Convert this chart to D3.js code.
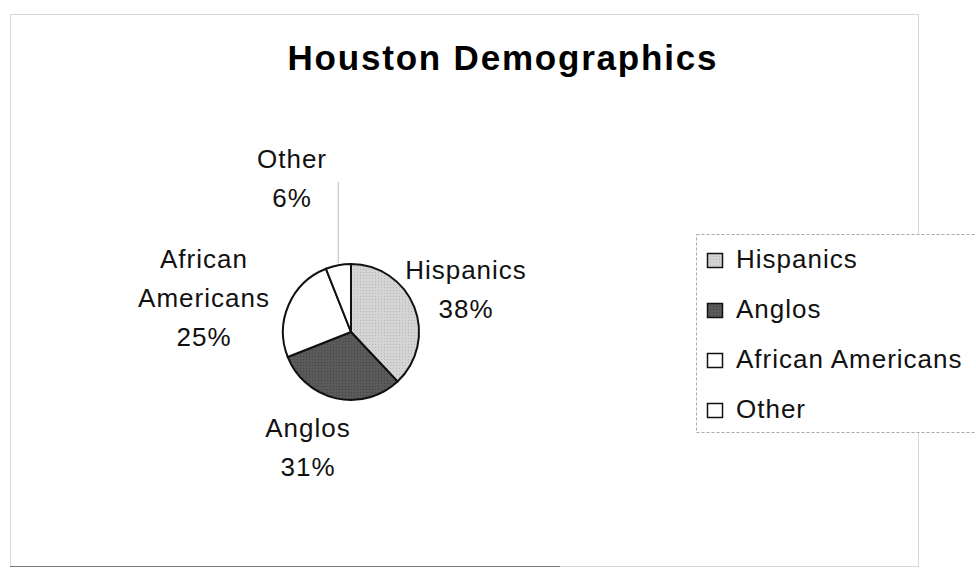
<!DOCTYPE html>
<head>
    <meta charset="utf-8">
    <title>Houston Demographics</title>
    <style>
        body { margin: 0; background: #fff; }
        svg { font-family: "Liberation Sans", Arial, sans-serif; }
    </style>
</head>
<body>
<svg width="976" height="576"></svg>

<script src="https://d3js.org/d3.v7.min.js"></script>
<script>
    const groups = ["Hispanics", "Anglos", "African Americans", "Other"];
    const shares = [38, 31, 25, 6];
    const fills = ["#cdcdcd", "#575757", "#ffffff", "#ffffff"];

    const svg = d3.select("svg");

    // chart frame
    svg.append("rect")
        .attr("x", 10.5).attr("y", 14.5)
        .attr("width", 908).attr("height", 552)
        .attr("fill", "none")
        .attr("stroke", "#d8d8d8");
    svg.append("line")
        .attr("x1", 10).attr("x2", 560).attr("y1", 566.5).attr("y2", 566.5)
        .attr("stroke", "#777");

    svg.append("text")
        .attr("x", 502).attr("y", 70)
        .attr("text-anchor", "middle")
        .attr("textLength", 429)
        .attr("lengthAdjust", "spacing")
        .style("font-size", "35px").style("font-weight", "bold")
        .text("Houston Demographics");

    const cx = 351, cy = 332, r = 68;
    const data = groups.map((g, i) => ({ name: g, value: shares[i], fill: fills[i] }));

    const pie = d3.pie().sort(null).value(d => d.value);
    const arc = d3.arc().innerRadius(0).outerRadius(r);
    const arcs = pie(data);

    const g = svg.append("g").attr("transform", `translate(${cx},${cy})`);

    // dotted textures like the printed original
    const defs = svg.append("defs");
    const pat = defs.append("pattern").attr("id", "dots")
        .attr("width", 3).attr("height", 3).attr("patternUnits", "userSpaceOnUse");
    pat.append("rect").attr("width", 3).attr("height", 3).attr("fill", "#d4d4d4");
    pat.append("rect").attr("width", 1).attr("height", 1).attr("fill", "#b8b8b8");
    const pat2 = defs.append("pattern").attr("id", "dots2")
        .attr("width", 3).attr("height", 3).attr("patternUnits", "userSpaceOnUse");
    pat2.append("rect").attr("width", 3).attr("height", 3).attr("fill", "#5a5a5a");
    pat2.append("rect").attr("width", 1).attr("height", 1).attr("fill", "#444");

    const fillOf = (d, i) => i === 0 ? "url(#dots)" : i === 1 ? "url(#dots2)" : d.fill;

    g.selectAll("path")
        .data(arcs)
        .join("path")
        .attr("d", arc)
        .attr("fill", d => fillOf(d.data, d.index))
        .attr("stroke", "#111")
        .attr("stroke-width", 2);

    // leader line for "Other"
    const otherMid = (arcs[3].startAngle + arcs[3].endAngle) / 2;
    const lx = Math.sin(otherMid) * r;
    g.append("line")
        .attr("x1", lx).attr("x2", lx)
        .attr("y1", -Math.cos(otherMid) * r - 2).attr("y2", -150)
        .attr("stroke", "#bbb");

    // data labels
    const labelLines = [
        ["Hispanics", "38%"],
        ["Anglos", "31%"],
        ["African", "Americans", "25%"],
        ["Other", "6%"]
    ];
    const labelPos = [[466, 279], [308, 437], [204, 268], [292, 168]];
    labelLines.forEach((lines, i) => {
        const t = svg.append("text")
            .attr("text-anchor", "middle")
            .style("font-size", "26px")
            .style("letter-spacing", "1px")
            .attr("fill", "#111");
        lines.forEach((s, j) => {
            t.append("tspan")
                .attr("x", labelPos[i][0])
                .attr("y", labelPos[i][1] + j * 39)
                .text(s);
        });
    });

    // legend
    const legend = svg.append("g").attr("transform", "translate(696,234)");
    legend.append("rect")
        .attr("x", 0.5).attr("y", 0.5)
        .attr("width", 300).attr("height", 198)
        .attr("fill", "#fff")
        .attr("stroke", "#aaa")
        .attr("stroke-dasharray", "3,2");

    const item = legend.selectAll(".item")
        .data(data)
        .join("g")
        .attr("class", "item")
        .attr("transform", (d, i) => `translate(11,${34 + i * 50})`);

    item.append("rect")
        .attr("x", 0.5).attr("y", -14.5)
        .attr("width", 15).attr("height", 14)
        .attr("fill", (d, i) => fillOf(d, i))
        .attr("stroke", "#111")
        .attr("stroke-width", 1.5);

    item.append("text")
        .attr("x", 29).attr("y", 0)
        .style("font-size", "26px")
        .style("letter-spacing", "1px")
        .attr("fill", "#111")
        .text(d => d.name);
</script>
</body>
